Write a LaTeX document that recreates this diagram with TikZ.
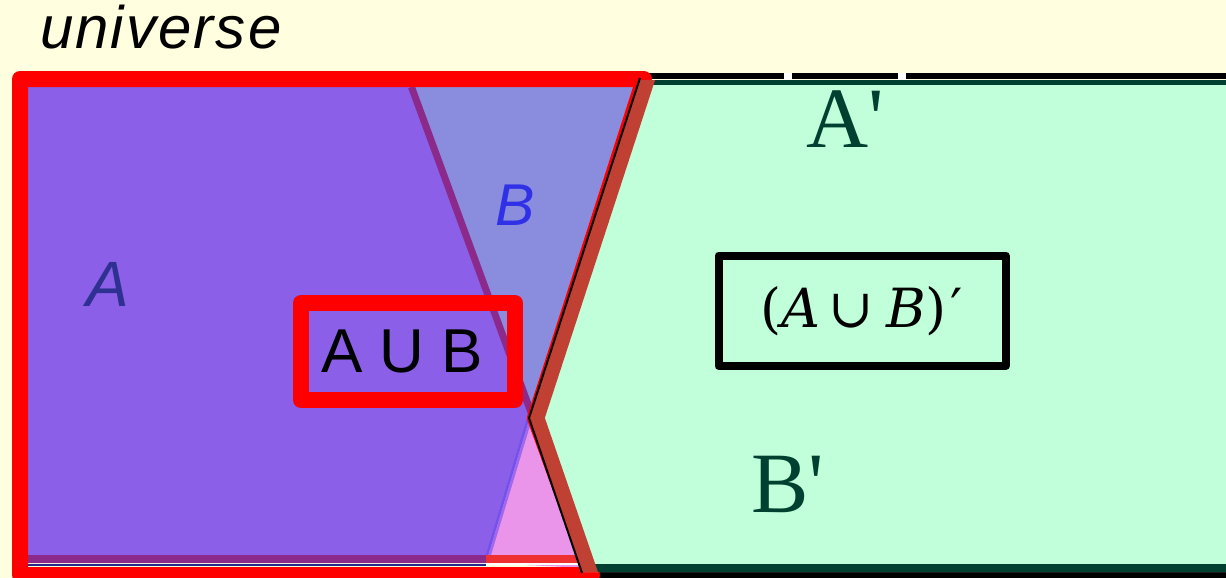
\documentclass[tikz,border=0pt]{standalone}
\usepackage{fontspec}
\setmainfont{Liberation Serif}
\setsansfont{Liberation Sans}
\newfontfamily\univfont{Liberation Sans}[LetterSpace=3.5]
\newfontfamily\cmfont{DejaVu Serif}
\font\dgfont="Liberation Serif" at 43pt
\definecolor{bg}{RGB}{255,255,224}
\definecolor{apurple}{RGB}{139,95,232}
\definecolor{bblue}{RGB}{138,141,221}
\definecolor{pinkc}{RGB}{234,149,234}
\definecolor{greenc}{RGB}{192,255,218}
\definecolor{dgreen}{RGB}{0,64,48}
\definecolor{dred}{RGB}{192,64,52}
\definecolor{magc}{RGB}{139,42,138}
\definecolor{alabel}{RGB}{46,48,146}
\definecolor{blabel}{RGB}{48,48,230}
\definecolor{bline}{RGB}{100,70,240}
\definecolor{redstrip}{RGB}{238,48,48}
\definecolor{navy}{RGB}{40,40,140}
\begin{document}
\begin{tikzpicture}[x=0.5pt,y=-0.5pt,line join=round,
  lbl/.style={inner sep=0pt,outer sep=0pt},
  setlbl/.style={lbl,font=\sffamily\itshape\fontsize{#1}{#1}\selectfont},
  primelbl/.style={lbl,text=dgreen,font=\dgfont,anchor=base west},
  boxnode/.style={inner sep=0pt,outer sep=0pt}]
\useasboundingbox (0,0) rectangle (1226,578);
\clip (0,0) rectangle (1226,578);
\fill[bg] (0,0) rectangle (1226,578);
% universe frame
\draw[black,line width=3pt] (20,76) rectangle (1260,575);
% set A
\fill[apurple] (28,87) -- (411,87) -- (530,417) -- (486,563) -- (28,563) -- cycle;
% set B
\fill[bblue] (411,87) -- (646,87) -- (530,417) -- cycle;
% lower wedge
\fill[pinkc] (530,417) -- (586,568) -- (486,563) -- cycle;
\draw[magc,line width=3.5pt] (411.5,87) -- (532,415);
\draw[bline,opacity=.55,line width=2.5pt] (530,417) -- (486,563);
\fill[magc] (28,555) rectangle (486,563);
\fill[redstrip] (486,555) rectangle (600,563);
\draw[navy,line width=1pt] (28,565) -- (486,565);
\draw[white,line width=0.6pt] (486,564) -- (590,564);
% union outline
\draw[red,line width=8pt] (20,575) -- (20,79) -- (644,79) -- (535,418) -- (592,575) -- cycle;
% complement
\fill[greenc] (639.3,80) -- (1260,80) -- (1260,572) -- (582,572) -- (529,418) -- cycle;
\draw[dgreen,line width=2.5pt] (639,82.5) -- (1260,82.5);
\draw[dgreen,line width=4pt] (582,568) -- (1260,568);
\begin{scope}
  \clip (639.3,80) -- (1260,80) -- (1260,572) -- (582,572) -- (529,418) -- cycle;
  \draw[dred,line width=15pt] (646.5,58) -- (529,418) -- (589,592);
\end{scope}
\draw[black,line width=1pt] (640,78) -- (529,418) -- (582,573);
\fill[white] (784,73) rectangle (792,79.5);
\fill[white] (898,73) rectangle (906,79.5);
% labels
\node[lbl,anchor=base west,font=\univfont\itshape\fontsize{30pt}{34pt}\selectfont] (univ) at (40,48) {universe};
\node[setlbl=32pt,text=alabel,anchor=base] (alab) at (108,306) {A};
\node[setlbl=29.5pt,text=blabel,anchor=base] (blab) at (515,225) {B};
\node[boxnode,draw=red,line width=8pt,minimum width=107pt,minimum height=48.5pt,
      font=\sffamily\fontsize{31pt}{36pt}\selectfont] (aub) at (408,351.5) {A U B\kern6pt};
\node[boxnode,draw=black,line width=4pt,minimum width=143.5pt,minimum height=55.25pt,
      font=\cmfont\fontsize{27pt}{32pt}\selectfont] (comp) at (862,310.75)
      {(\textit{A}\kern4pt∪\kern6pt\textit{B})\kern2pt′};
\node[primelbl] (aprime) at (806,147) {A'};
\node[primelbl] (bprime) at (751,512) {B'};
\end{tikzpicture}
\end{document}
